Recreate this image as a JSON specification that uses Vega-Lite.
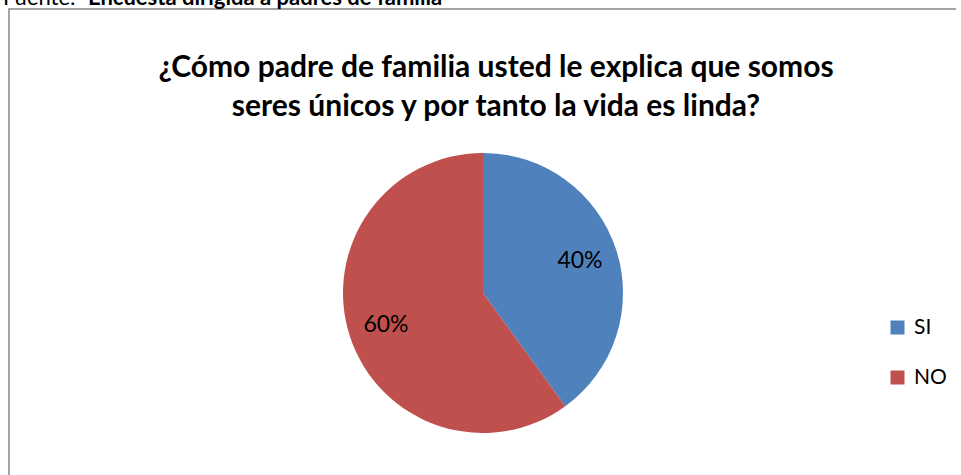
{
  "$schema": "https://vega.github.io/schema/vega-lite/v6.json",
  "autosize": "none",
  "width": 948,
  "height": 568,
  "padding": {"left": 9, "top": 9, "right": -1, "bottom": -100},
  "background": "white",
  "config": {
    "view": {"stroke": "#868686", "strokeWidth": 1.5},
    "font": "Lato"
  },
  "title": {
    "text": ["¿Cómo padre de familia usted le explica que somos", "seres únicos y por tanto la vida es linda?"],
    "font": "Lato",
    "fontSize": 30,
    "fontWeight": "bold",
    "color": "#000000",
    "anchor": "middle",
    "dx": 13,
    "lineHeight": 39,
    "offset": -135
  },
  "data": {
    "values": [
      {"respuesta": "SI", "porcentaje": 0.4},
      {"respuesta": "NO", "porcentaje": 0.6}
    ]
  },
  "layer": [
    {
      "mark": {"type": "arc", "outerRadius": 140},
      "encoding": {
        "theta": {"field": "porcentaje", "type": "quantitative", "stack": true},
        "order": {"field": "respuesta", "sort": "descending"},
        "color": {
          "field": "respuesta",
          "type": "nominal",
          "sort": ["SI", "NO"],
          "scale": {"domain": ["SI", "NO"], "range": ["#4F81BD", "#C0504D"]},
          "legend": {
            "title": null,
            "orient": "none",
            "legendX": 878,
            "legendY": 308,
            "symbolType": "square",
            "symbolSize": 196,
            "symbolStrokeWidth": 0,
            "labelFontSize": 21,
            "labelFont": "Lato",
            "labelColor": "#000000",
            "labelOffset": 6,
            "rowPadding": 28,
            "padding": 0
          }
        }
      }
    },
    {
      "mark": {"type": "text", "radius": 102, "fontSize": 23, "font": "Lato", "color": "#000000"},
      "encoding": {
        "theta": {"field": "porcentaje", "type": "quantitative", "stack": true},
        "order": {"field": "respuesta", "sort": "descending"},
        "text": {"field": "porcentaje", "type": "quantitative", "format": ".0%"}
      }
    },
    {
      "data": {"values": [{"t": "Fuente:"}]},
      "mark": {"type": "text", "align": "left", "baseline": "alphabetic", "fontSize": 22, "font": "Lato", "color": "#000000"},
      "encoding": {
        "x": {"value": -6},
        "y": {"value": -4},
        "text": {"field": "t"}
      }
    },
    {
      "data": {"values": [{"t": "Encuesta dirigida a padres de familia"}]},
      "mark": {"type": "text", "align": "left", "baseline": "alphabetic", "fontSize": 22, "fontWeight": "bold", "font": "Lato", "color": "#000000"},
      "encoding": {
        "x": {"value": 79},
        "y": {"value": -4},
        "text": {"field": "t"}
      }
    }
  ]
}
